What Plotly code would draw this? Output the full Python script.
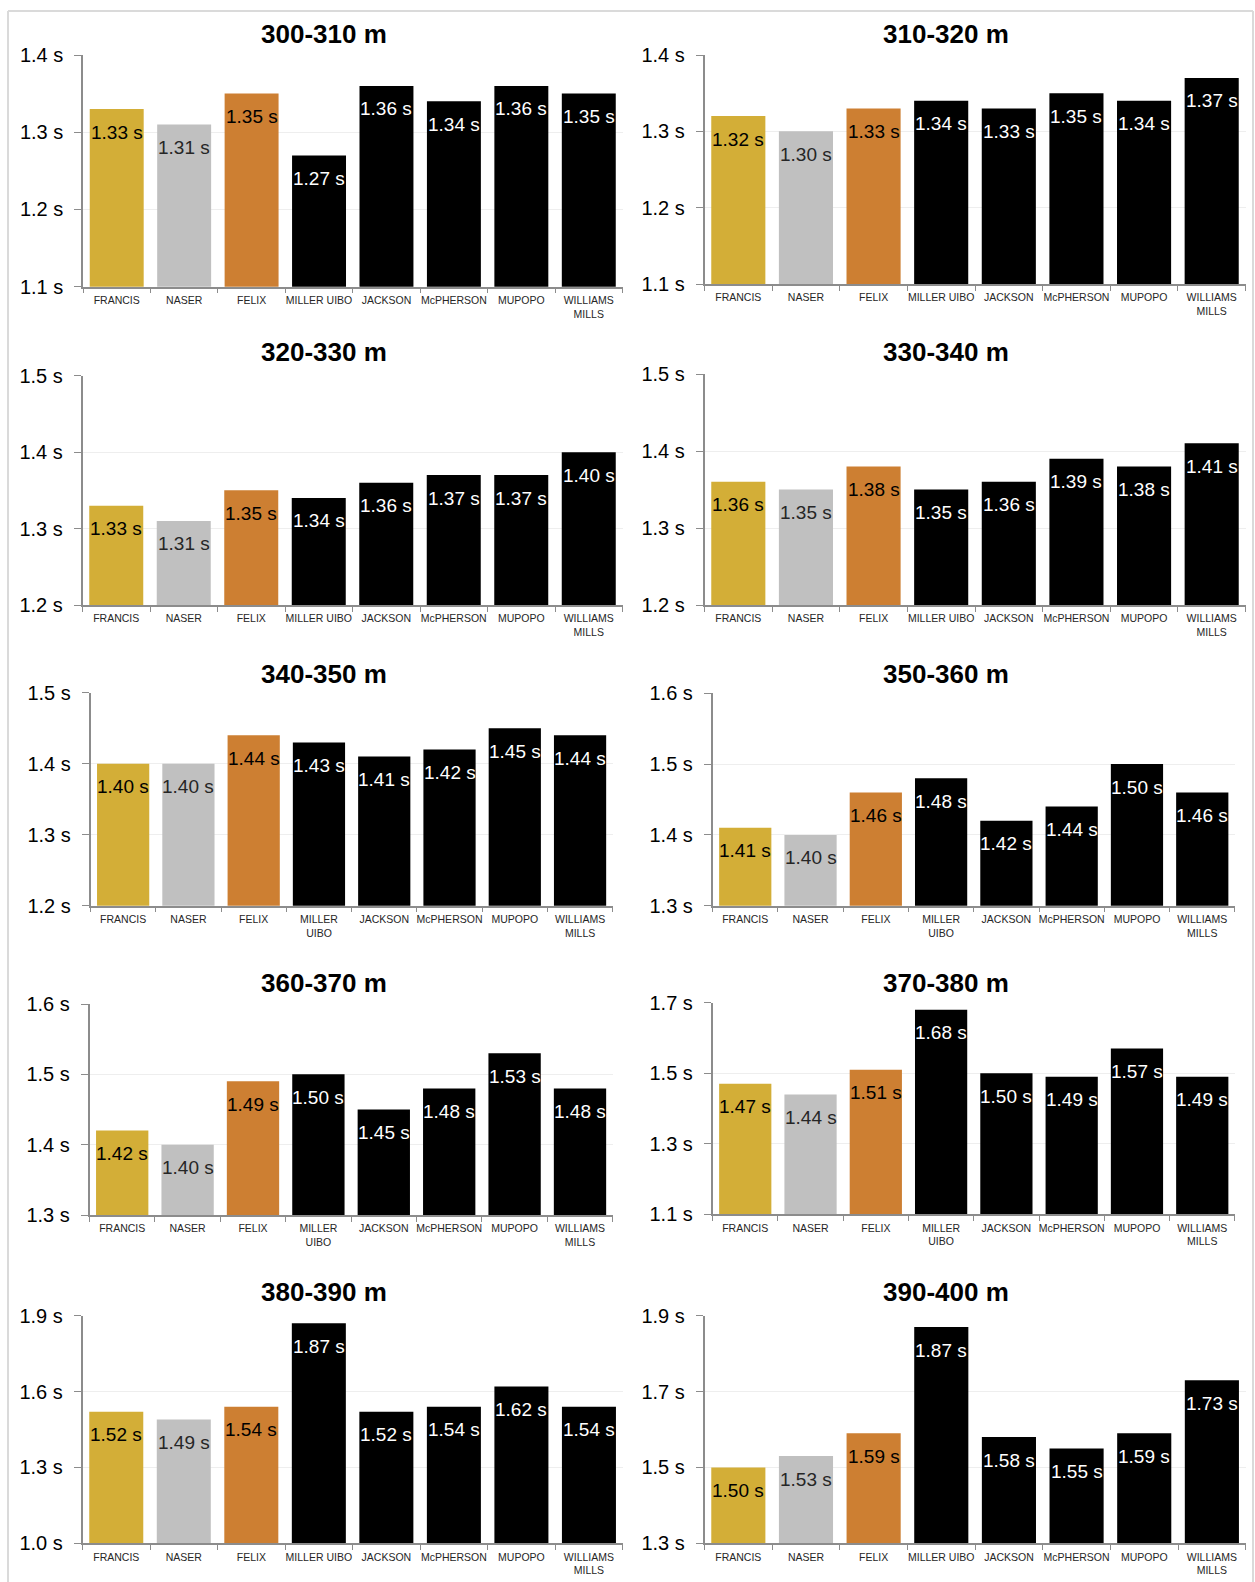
import plotly.graph_objects as go

# ---------------- data ----------------
categories = ["FRANCIS", "NASER", "FELIX", "MILLER UIBO", "JACKSON",
              "McPHERSON", "MUPOPO", "WILLIAMS MILLS"]
labels_wide = ["FRANCIS", "NASER", "FELIX", "MILLER UIBO", "JACKSON",
               "McPHERSON", "MUPOPO", "WILLIAMS<br>MILLS"]
labels_narrow = ["FRANCIS", "NASER", "FELIX", "MILLER<br>UIBO", "JACKSON",
                 "McPHERSON", "MUPOPO", "WILLIAMS<br>MILLS"]

segments = ["300-310 m", "310-320 m", "320-330 m", "330-340 m", "340-350 m",
            "350-360 m", "360-370 m", "370-380 m", "380-390 m", "390-400 m"]

t_300_310 = [1.33, 1.31, 1.35, 1.27, 1.36, 1.34, 1.36, 1.35]
t_310_320 = [1.32, 1.30, 1.33, 1.34, 1.33, 1.35, 1.34, 1.37]
t_320_330 = [1.33, 1.31, 1.35, 1.34, 1.36, 1.37, 1.37, 1.40]
t_330_340 = [1.36, 1.35, 1.38, 1.35, 1.36, 1.39, 1.38, 1.41]
t_340_350 = [1.40, 1.40, 1.44, 1.43, 1.41, 1.42, 1.45, 1.44]
t_350_360 = [1.41, 1.40, 1.46, 1.48, 1.42, 1.44, 1.50, 1.46]
t_360_370 = [1.42, 1.40, 1.49, 1.50, 1.45, 1.48, 1.53, 1.48]
t_370_380 = [1.47, 1.44, 1.51, 1.68, 1.50, 1.49, 1.57, 1.49]
t_380_390 = [1.52, 1.49, 1.54, 1.87, 1.52, 1.54, 1.62, 1.54]
t_390_400 = [1.50, 1.53, 1.59, 1.87, 1.58, 1.55, 1.59, 1.73]
series = [t_300_310, t_310_320, t_320_330, t_330_340, t_340_350,
          t_350_360, t_360_370, t_370_380, t_380_390, t_390_400]

ticks_300_310 = [1.1, 1.2, 1.3, 1.4]
ticks_310_320 = [1.1, 1.2, 1.3, 1.4]
ticks_320_330 = [1.2, 1.3, 1.4, 1.5]
ticks_330_340 = [1.2, 1.3, 1.4, 1.5]
ticks_340_350 = [1.2, 1.3, 1.4, 1.5]
ticks_350_360 = [1.3, 1.4, 1.5, 1.6]
ticks_360_370 = [1.3, 1.4, 1.5, 1.6]
ticks_370_380 = [1.1, 1.3, 1.5, 1.7]
ticks_380_390 = [1.0, 1.3, 1.6, 1.9]
ticks_390_400 = [1.3, 1.5, 1.7, 1.9]
ticks = [ticks_300_310, ticks_310_320, ticks_320_330, ticks_330_340, ticks_340_350,
         ticks_350_360, ticks_360_370, ticks_370_380, ticks_380_390, ticks_390_400]

# ---------------- styles / layout ----------------
bar_colors = ["#D3AE37", "#C0C0C0", "#CD7F32", "#000000", "#000000",
              "#000000", "#000000", "#000000"]
text_colors = ["#000000", "#262626", "#000000", "#FFFFFF", "#FFFFFF",
               "#FFFFFF", "#FFFFFF", "#FFFFFF"]

W, H = 1255, 1582
# plot area boxes in pixels: (x0, x1, y_top, y_bottom)
boxes = [
    (83.0, 622.5, 55.0, 286.7),
    (704.5, 1245.5, 55.0, 284.0),
    (82.5, 622.5, 375.7, 605.0),
    (704.5, 1245.5, 374.0, 605.0),
    (90.5, 612.7, 692.7, 905.7),
    (712.6, 1234.9, 693.3, 905.7),
    (89.5, 612.7, 1004.0, 1215.0),
    (712.6, 1234.9, 1002.7, 1214.3),
    (82.5, 622.7, 1315.7, 1543.3),
    (704.5, 1245.7, 1315.7, 1543.3),
]
title_pos = [(324, 33.5), (946, 33.5), (324, 352), (946, 352), (324, 673.5),
             (946, 673.5), (324, 982.5), (946, 982.5), (324, 1292), (946, 1292)]
narrow_panels = {4, 5, 6, 7}

FONT = "Liberation Sans, Arial, sans-serif"
NARROW = "Liberation Sans Narrow, Arial Narrow, Liberation Sans, Arial, sans-serif"

fig = go.Figure()
annotations = []
layout_axes = {}

for i, (seg, vals, tv) in enumerate(zip(segments, series, ticks)):
    n = i + 1
    xa = "x" if n == 1 else f"x{n}"
    ya = "y" if n == 1 else f"y{n}"
    xkey = "xaxis" if n == 1 else f"xaxis{n}"
    ykey = "yaxis" if n == 1 else f"yaxis{n}"
    x0, x1, yt, yb = boxes[i]

    fig.add_trace(go.Bar(
        x=categories, y=vals, xaxis=xa, yaxis=ya,
        marker=dict(color=bar_colors, line=dict(width=0)),
        showlegend=False, hoverinfo="x+y",
    ))

    for c, v, tc in zip(categories, vals, text_colors):
        annotations.append(dict(
            x=c, y=v, xref=xa, yref=ya, text=f"{v:.2f} s",
            showarrow=False, yanchor="middle", xanchor="center", yshift=-23,
            font=dict(family=NARROW, size=19, color=tc),
        ))

    tx, ty = title_pos[i]
    annotations.append(dict(
        x=tx / W, y=1 - ty / H, xref="paper", yref="paper",
        text=f"<b>{seg}</b>", showarrow=False,
        xanchor="center", yanchor="middle",
        font=dict(family=FONT, size=26, color="#000000"),
    ))

    layout_axes[xkey] = dict(
        domain=[x0 / W, x1 / W], anchor=ya, automargin=False,
        type="category", categoryorder="array", categoryarray=categories,
        tickvals=categories,
        ticktext=labels_narrow if i in narrow_panels else labels_wide,
        tickangle=0, ticklabelstandoff=3,
        tickson="boundaries", ticks="outside", ticklen=5, tickcolor="#8C8C8C",
        showline=True, linecolor="#8C8C8C", linewidth=1.5,
        showgrid=False, zeroline=False, fixedrange=True,
        tickfont=dict(family=FONT, size=10.5, color="#262626"),
    )
    layout_axes[ykey] = dict(
        domain=[1 - yb / H, 1 - yt / H], anchor=xa, automargin=False,
        range=[tv[0], tv[-1]], tickvals=tv,
        ticktext=[f"{t:.1f} s" for t in tv],
        ticks="outside", ticklen=7, tickcolor="#8C8C8C",
        ticklabelstandoff=7,
        showline=True, linecolor="#8C8C8C", linewidth=1.5,
        showgrid=True, gridcolor="#EEEEEE", gridwidth=1,
        zeroline=False, fixedrange=True,
        tickfont=dict(family=FONT, size=20, color="#000000"),
    )

shapes = [
    dict(type="line", xref="paper", yref="paper", x0=8 / W, x1=8 / W, y0=0, y1=1 - 11 / H,
         line=dict(color="#DADADA", width=2)),
    dict(type="line", xref="paper", yref="paper", x0=8 / W, x1=1253 / W, y0=1 - 11 / H, y1=1 - 11 / H,
         line=dict(color="#DADADA", width=2)),
    dict(type="line", xref="paper", yref="paper", x0=1253 / W, x1=1253 / W, y0=0, y1=1 - 11 / H,
         line=dict(color="#DADADA", width=2)),
]

fig.update_layout(
    width=W, height=H, autosize=False,
    margin=dict(l=0, r=0, t=0, b=0, pad=0),
    paper_bgcolor="#FFFFFF", plot_bgcolor="#FFFFFF",
    bargap=0.2,
    annotations=annotations, shapes=shapes,
    **layout_axes,
)

fig.write_html(
    "out.html",
    config={"displayModeBar": False},
    post_script="document.body.style.margin='0';document.body.style.overflow='hidden';",
)
